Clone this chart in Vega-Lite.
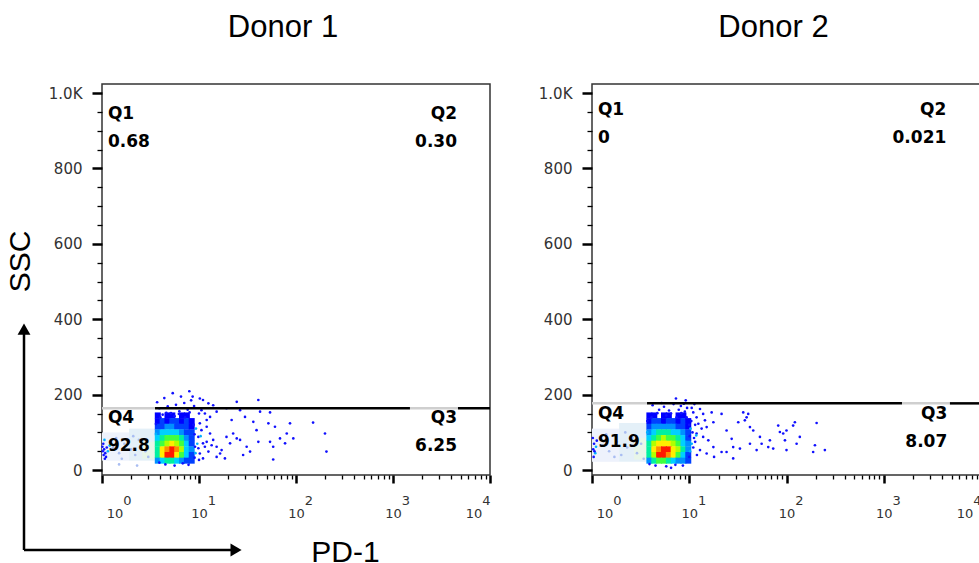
{
  "$schema": "https://vega.github.io/schema/vega-lite/v6.json",
  "background": "white",
  "padding": {"left": 4, "top": 11, "right": 0, "bottom": 0},
  "config": {
    "view": {"stroke": "#333", "strokeWidth": 1.5},
    "concat": {"spacing": 45}
  },
  "datasets": {
    "faint": [
      {"donor": "D1", "x": 1.0, "x2": 1.9, "y": 25, "y2": 100, "t": "f1"},
      {"donor": "D1", "x": 1.9, "x2": 3.52, "y": 25, "y2": 110, "t": "f2"},
      {"donor": "D1", "x": 2.6, "x2": 3.52, "y": 30, "y2": 75, "t": "f3"},
      {"donor": "D2", "x": 1.0, "x2": 1.9, "y": 22, "y2": 110, "t": "f1"},
      {"donor": "D2", "x": 1.9, "x2": 3.72, "y": 22, "y2": 125, "t": "f2"},
      {"donor": "D2", "x": 2.7, "x2": 3.72, "y": 28, "y2": 85, "t": "f3"}
    ],
    "heat": [
      {"donor": "D1", "x": 3.76, "y": 145, "v": 1}, {"donor": "D1", "x": 4.73, "y": 145, "v": 1}, {"donor": "D1", "x": 5.31, "y": 145, "v": 1}, {"donor": "D1", "x": 6.68, "y": 145, "v": 1}, {"donor": "D1", "x": 7.50, "y": 145, "v": 1},
      {"donor": "D1", "x": 3.76, "y": 130, "v": 1}, {"donor": "D1", "x": 4.22, "y": 130, "v": 2}, {"donor": "D1", "x": 4.73, "y": 130, "v": 1}, {"donor": "D1", "x": 5.31, "y": 130, "v": 2}, {"donor": "D1", "x": 5.96, "y": 130, "v": 2}, {"donor": "D1", "x": 6.68, "y": 130, "v": 1}, {"donor": "D1", "x": 7.50, "y": 130, "v": 2}, {"donor": "D1", "x": 8.41, "y": 130, "v": 1},
      {"donor": "D1", "x": 3.76, "y": 115, "v": 2}, {"donor": "D1", "x": 4.22, "y": 115, "v": 2}, {"donor": "D1", "x": 4.73, "y": 115, "v": 3}, {"donor": "D1", "x": 5.31, "y": 115, "v": 3}, {"donor": "D1", "x": 5.96, "y": 115, "v": 2}, {"donor": "D1", "x": 6.68, "y": 115, "v": 2}, {"donor": "D1", "x": 7.50, "y": 115, "v": 2}, {"donor": "D1", "x": 8.41, "y": 115, "v": 1},
      {"donor": "D1", "x": 3.76, "y": 100, "v": 3}, {"donor": "D1", "x": 4.22, "y": 100, "v": 4}, {"donor": "D1", "x": 4.73, "y": 100, "v": 4}, {"donor": "D1", "x": 5.31, "y": 100, "v": 4}, {"donor": "D1", "x": 5.96, "y": 100, "v": 4}, {"donor": "D1", "x": 6.68, "y": 100, "v": 3}, {"donor": "D1", "x": 7.50, "y": 100, "v": 2}, {"donor": "D1", "x": 8.41, "y": 100, "v": 2},
      {"donor": "D1", "x": 3.76, "y": 85, "v": 4}, {"donor": "D1", "x": 4.22, "y": 85, "v": 5}, {"donor": "D1", "x": 4.73, "y": 85, "v": 6}, {"donor": "D1", "x": 5.31, "y": 85, "v": 6}, {"donor": "D1", "x": 5.96, "y": 85, "v": 6}, {"donor": "D1", "x": 6.68, "y": 85, "v": 5}, {"donor": "D1", "x": 7.50, "y": 85, "v": 3}, {"donor": "D1", "x": 8.41, "y": 85, "v": 2},
      {"donor": "D1", "x": 3.76, "y": 70, "v": 5}, {"donor": "D1", "x": 4.22, "y": 70, "v": 6}, {"donor": "D1", "x": 4.73, "y": 70, "v": 7}, {"donor": "D1", "x": 5.31, "y": 70, "v": 8}, {"donor": "D1", "x": 5.96, "y": 70, "v": 7}, {"donor": "D1", "x": 6.68, "y": 70, "v": 6}, {"donor": "D1", "x": 7.50, "y": 70, "v": 4}, {"donor": "D1", "x": 8.41, "y": 70, "v": 2},
      {"donor": "D1", "x": 3.76, "y": 55, "v": 5}, {"donor": "D1", "x": 4.22, "y": 55, "v": 8}, {"donor": "D1", "x": 4.73, "y": 55, "v": 9}, {"donor": "D1", "x": 5.31, "y": 55, "v": 10}, {"donor": "D1", "x": 5.96, "y": 55, "v": 9}, {"donor": "D1", "x": 6.68, "y": 55, "v": 7}, {"donor": "D1", "x": 7.50, "y": 55, "v": 4}, {"donor": "D1", "x": 8.41, "y": 55, "v": 3},
      {"donor": "D1", "x": 3.76, "y": 40, "v": 5}, {"donor": "D1", "x": 4.22, "y": 40, "v": 8}, {"donor": "D1", "x": 4.73, "y": 40, "v": 10}, {"donor": "D1", "x": 5.31, "y": 40, "v": 10}, {"donor": "D1", "x": 5.96, "y": 40, "v": 8}, {"donor": "D1", "x": 6.68, "y": 40, "v": 6}, {"donor": "D1", "x": 7.50, "y": 40, "v": 4}, {"donor": "D1", "x": 8.41, "y": 40, "v": 2},
      {"donor": "D1", "x": 3.76, "y": 25, "v": 3}, {"donor": "D1", "x": 4.22, "y": 25, "v": 4}, {"donor": "D1", "x": 4.73, "y": 25, "v": 5}, {"donor": "D1", "x": 5.31, "y": 25, "v": 5}, {"donor": "D1", "x": 5.96, "y": 25, "v": 4}, {"donor": "D1", "x": 6.68, "y": 25, "v": 3}, {"donor": "D1", "x": 7.50, "y": 25, "v": 2}, {"donor": "D1", "x": 8.41, "y": 25, "v": 2},
      {"donor": "D2", "x": 3.89, "y": 145, "v": 1}, {"donor": "D2", "x": 4.37, "y": 145, "v": 1}, {"donor": "D2", "x": 5.50, "y": 145, "v": 1}, {"donor": "D2", "x": 6.17, "y": 145, "v": 1}, {"donor": "D2", "x": 7.76, "y": 145, "v": 1}, {"donor": "D2", "x": 8.71, "y": 145, "v": 1},
      {"donor": "D2", "x": 3.89, "y": 130, "v": 1}, {"donor": "D2", "x": 4.37, "y": 130, "v": 2}, {"donor": "D2", "x": 4.90, "y": 130, "v": 2}, {"donor": "D2", "x": 5.50, "y": 130, "v": 1}, {"donor": "D2", "x": 6.17, "y": 130, "v": 2}, {"donor": "D2", "x": 6.92, "y": 130, "v": 2}, {"donor": "D2", "x": 7.76, "y": 130, "v": 1}, {"donor": "D2", "x": 8.71, "y": 130, "v": 2}, {"donor": "D2", "x": 9.77, "y": 130, "v": 1},
      {"donor": "D2", "x": 3.89, "y": 115, "v": 2}, {"donor": "D2", "x": 4.37, "y": 115, "v": 3}, {"donor": "D2", "x": 4.90, "y": 115, "v": 3}, {"donor": "D2", "x": 5.50, "y": 115, "v": 3}, {"donor": "D2", "x": 6.17, "y": 115, "v": 3}, {"donor": "D2", "x": 6.92, "y": 115, "v": 3}, {"donor": "D2", "x": 7.76, "y": 115, "v": 2}, {"donor": "D2", "x": 8.71, "y": 115, "v": 2}, {"donor": "D2", "x": 9.77, "y": 115, "v": 1},
      {"donor": "D2", "x": 3.89, "y": 100, "v": 3}, {"donor": "D2", "x": 4.37, "y": 100, "v": 4}, {"donor": "D2", "x": 4.90, "y": 100, "v": 5}, {"donor": "D2", "x": 5.50, "y": 100, "v": 5}, {"donor": "D2", "x": 6.17, "y": 100, "v": 5}, {"donor": "D2", "x": 6.92, "y": 100, "v": 4}, {"donor": "D2", "x": 7.76, "y": 100, "v": 4}, {"donor": "D2", "x": 8.71, "y": 100, "v": 3}, {"donor": "D2", "x": 9.77, "y": 100, "v": 2},
      {"donor": "D2", "x": 3.89, "y": 85, "v": 4}, {"donor": "D2", "x": 4.37, "y": 85, "v": 5}, {"donor": "D2", "x": 4.90, "y": 85, "v": 6}, {"donor": "D2", "x": 5.50, "y": 85, "v": 7}, {"donor": "D2", "x": 6.17, "y": 85, "v": 6}, {"donor": "D2", "x": 6.92, "y": 85, "v": 6}, {"donor": "D2", "x": 7.76, "y": 85, "v": 5}, {"donor": "D2", "x": 8.71, "y": 85, "v": 4}, {"donor": "D2", "x": 9.77, "y": 85, "v": 2},
      {"donor": "D2", "x": 3.89, "y": 70, "v": 5}, {"donor": "D2", "x": 4.37, "y": 70, "v": 7}, {"donor": "D2", "x": 4.90, "y": 70, "v": 8}, {"donor": "D2", "x": 5.50, "y": 70, "v": 8}, {"donor": "D2", "x": 6.17, "y": 70, "v": 8}, {"donor": "D2", "x": 6.92, "y": 70, "v": 7}, {"donor": "D2", "x": 7.76, "y": 70, "v": 6}, {"donor": "D2", "x": 8.71, "y": 70, "v": 4}, {"donor": "D2", "x": 9.77, "y": 70, "v": 3},
      {"donor": "D2", "x": 3.89, "y": 55, "v": 5}, {"donor": "D2", "x": 4.37, "y": 55, "v": 8}, {"donor": "D2", "x": 4.90, "y": 55, "v": 9}, {"donor": "D2", "x": 5.50, "y": 55, "v": 10}, {"donor": "D2", "x": 6.17, "y": 55, "v": 10}, {"donor": "D2", "x": 6.92, "y": 55, "v": 8}, {"donor": "D2", "x": 7.76, "y": 55, "v": 7}, {"donor": "D2", "x": 8.71, "y": 55, "v": 5}, {"donor": "D2", "x": 9.77, "y": 55, "v": 3},
      {"donor": "D2", "x": 3.89, "y": 40, "v": 5}, {"donor": "D2", "x": 4.37, "y": 40, "v": 7}, {"donor": "D2", "x": 4.90, "y": 40, "v": 10}, {"donor": "D2", "x": 5.50, "y": 40, "v": 10}, {"donor": "D2", "x": 6.17, "y": 40, "v": 9}, {"donor": "D2", "x": 6.92, "y": 40, "v": 8}, {"donor": "D2", "x": 7.76, "y": 40, "v": 6}, {"donor": "D2", "x": 8.71, "y": 40, "v": 4}, {"donor": "D2", "x": 9.77, "y": 40, "v": 2},
      {"donor": "D2", "x": 3.89, "y": 25, "v": 3}, {"donor": "D2", "x": 4.37, "y": 25, "v": 5}, {"donor": "D2", "x": 4.90, "y": 25, "v": 6}, {"donor": "D2", "x": 5.50, "y": 25, "v": 6}, {"donor": "D2", "x": 6.17, "y": 25, "v": 5}, {"donor": "D2", "x": 6.92, "y": 25, "v": 4}, {"donor": "D2", "x": 7.76, "y": 25, "v": 3}, {"donor": "D2", "x": 8.71, "y": 25, "v": 3}, {"donor": "D2", "x": 9.77, "y": 25, "v": 2}
    ],
    "dots": [
      {"donor": "D1", "x": 10.2, "y": 190, "t": "blue"}, {"donor": "D1", "x": 11.0, "y": 186, "t": "blue"}, {"donor": "D1", "x": 12.5, "y": 177, "t": "blue"}, {"donor": "D1", "x": 14.0, "y": 172, "t": "blue"}, {"donor": "D1", "x": 10.6, "y": 159, "t": "blue"}, {"donor": "D1", "x": 11.5, "y": 150, "t": "blue"}, {"donor": "D1", "x": 13.0, "y": 141, "t": "blue"}, {"donor": "D1", "x": 15.2, "y": 155, "t": "blue"}, {"donor": "D1", "x": 19.2, "y": 164, "t": "blue"}, {"donor": "D1", "x": 24.5, "y": 181, "t": "blue"}, {"donor": "D1", "x": 26.5, "y": 159, "t": "blue"}, {"donor": "D1", "x": 40.9, "y": 186, "t": "blue"}, {"donor": "D1", "x": 42.6, "y": 155, "t": "blue"}, {"donor": "D1", "x": 54.0, "y": 153, "t": "blue"}, {"donor": "D1", "x": 21.7, "y": 133, "t": "blue"}, {"donor": "D1", "x": 29.8, "y": 141, "t": "blue"}, {"donor": "D1", "x": 36.3, "y": 128, "t": "blue"}, {"donor": "D1", "x": 51.9, "y": 124, "t": "blue"}, {"donor": "D1", "x": 60.7, "y": 115, "t": "blue"}, {"donor": "D1", "x": 80.3, "y": 97, "t": "blue"}, {"donor": "D1", "x": 86.7, "y": 124, "t": "blue"}, {"donor": "D1", "x": 150, "y": 126, "t": "blue"}, {"donor": "D1", "x": 199, "y": 97, "t": "blue"}, {"donor": "D1", "x": 93.8, "y": 84, "t": "blue"}, {"donor": "D1", "x": 77.1, "y": 71, "t": "blue"}, {"donor": "D1", "x": 54.0, "y": 75, "t": "blue"}, {"donor": "D1", "x": 58.2, "y": 62, "t": "blue"}, {"donor": "D1", "x": 40.9, "y": 75, "t": "blue"}, {"donor": "D1", "x": 31.0, "y": 62, "t": "blue"}, {"donor": "D1", "x": 26.5, "y": 80, "t": "blue"}, {"donor": "D1", "x": 24.5, "y": 84, "t": "blue"}, {"donor": "D1", "x": 20.9, "y": 71, "t": "blue"}, {"donor": "D1", "x": 17.1, "y": 53, "t": "blue"}, {"donor": "D1", "x": 18.5, "y": 31, "t": "blue"}, {"donor": "D1", "x": 28.5, "y": 40, "t": "blue"}, {"donor": "D1", "x": 33.6, "y": 49, "t": "blue"}, {"donor": "D1", "x": 58.2, "y": 28, "t": "blue"}, {"donor": "D1", "x": 206, "y": 49, "t": "blue"}, {"donor": "D1", "x": 12.0, "y": 115, "t": "blue"}, {"donor": "D1", "x": 13.0, "y": 97, "t": "blue"}, {"donor": "D1", "x": 14.0, "y": 80, "t": "blue"}, {"donor": "D1", "x": 15.2, "y": 62, "t": "blue"}, {"donor": "D1", "x": 11.5, "y": 62, "t": "blue"}, {"donor": "D1", "x": 10.2, "y": 44, "t": "blue"}, {"donor": "D1", "x": 11.0, "y": 31, "t": "blue"}, {"donor": "D1", "x": 12.5, "y": 49, "t": "blue"}, {"donor": "D1", "x": 15.2, "y": 35, "t": "blue"}, {"donor": "D1", "x": 16.5, "y": 44, "t": "blue"}, {"donor": "D1", "x": 9.85, "y": 88, "t": "blue"}, {"donor": "D1", "x": 10.2, "y": 124, "t": "blue"}, {"donor": "D1", "x": 12.0, "y": 75, "t": "blue"}, {"donor": "D1", "x": 13.5, "y": 66, "t": "blue"}, {"donor": "D1", "x": 19.2, "y": 88, "t": "blue"}, {"donor": "D1", "x": 22.5, "y": 97, "t": "blue"}, {"donor": "D1", "x": 39.2, "y": 106, "t": "blue"}, {"donor": "D1", "x": 68.4, "y": 84, "t": "blue"},
      {"donor": "D1", "x": 10.0, "y": 150, "t": "blue"}, {"donor": "D1", "x": 10.6, "y": 106, "t": "blue"}, {"donor": "D1", "x": 11.0, "y": 71, "t": "blue"}, {"donor": "D1", "x": 10.0, "y": 27, "t": "blue"}, {"donor": "D1", "x": 12.0, "y": 133, "t": "blue"}, {"donor": "D1", "x": 9.85, "y": 58, "t": "blue"},
      {"donor": "D1", "x": 9.3, "y": 110, "t": "cyan"}, {"donor": "D1", "x": 9.6, "y": 70, "t": "cyan"}, {"donor": "D1", "x": 10.4, "y": 90, "t": "cyan"}, {"donor": "D1", "x": 9.2, "y": 45, "t": "cyan"},
      {"donor": "D1", "x": 5.36, "y": 204, "t": "blue"}, {"donor": "D1", "x": 6.52, "y": 195, "t": "blue"}, {"donor": "D1", "x": 7.95, "y": 209, "t": "blue"}, {"donor": "D1", "x": 4.39, "y": 191, "t": "blue"}, {"donor": "D1", "x": 7.05, "y": 178, "t": "blue"}, {"donor": "D1", "x": 5.79, "y": 173, "t": "blue"}, {"donor": "D1", "x": 4.76, "y": 169, "t": "blue"}, {"donor": "D1", "x": 3.90, "y": 164, "t": "blue"}, {"donor": "D1", "x": 7.64, "y": 160, "t": "blue"}, {"donor": "D1", "x": 6.27, "y": 156, "t": "blue"}, {"donor": "D1", "x": 5.14, "y": 151, "t": "blue"}, {"donor": "D1", "x": 4.22, "y": 147, "t": "blue"}, {"donor": "D1", "x": 8.3, "y": 185, "t": "blue"}, {"donor": "D1", "x": 8.9, "y": 170, "t": "blue"}, {"donor": "D1", "x": 8.6, "y": 195, "t": "blue"}, {"donor": "D1", "x": 3.7, "y": 180, "t": "blue"},
      {"donor": "D1", "x": 4.0, "y": 140, "t": "blue"}, {"donor": "D1", "x": 4.6, "y": 152, "t": "blue"}, {"donor": "D1", "x": 5.6, "y": 143, "t": "blue"}, {"donor": "D1", "x": 6.2, "y": 149, "t": "blue"}, {"donor": "D1", "x": 7.2, "y": 140, "t": "blue"}, {"donor": "D1", "x": 8.0, "y": 153, "t": "blue"}, {"donor": "D1", "x": 8.8, "y": 120, "t": "blue"}, {"donor": "D1", "x": 9.0, "y": 95, "t": "blue"}, {"donor": "D1", "x": 9.1, "y": 62, "t": "blue"}, {"donor": "D1", "x": 9.0, "y": 33, "t": "blue"}, {"donor": "D1", "x": 3.6, "y": 122, "t": "blue"}, {"donor": "D1", "x": 3.6, "y": 96, "t": "cyan"},
      {"donor": "D1", "x": 1.03, "y": 70, "t": "blue"}, {"donor": "D1", "x": 1.05, "y": 55, "t": "blue"}, {"donor": "D1", "x": 1.08, "y": 45, "t": "blue"}, {"donor": "D1", "x": 1.12, "y": 60, "t": "blue"}, {"donor": "D1", "x": 1.04, "y": 40, "t": "blue"}, {"donor": "D1", "x": 1.15, "y": 50, "t": "cyan"}, {"donor": "D1", "x": 1.1, "y": 35, "t": "blue"}, {"donor": "D1", "x": 1.06, "y": 80, "t": "cyan"}, {"donor": "D1", "x": 1.2, "y": 65, "t": "cyan"}, {"donor": "D1", "x": 1.02, "y": 50, "t": "blue"}, {"donor": "D1", "x": 1.01, "y": 62, "t": "blue"}, {"donor": "D1", "x": 1.07, "y": 30, "t": "blue"},
      {"donor": "D1", "x": 1.3, "y": 60, "t": "pale"}, {"donor": "D1", "x": 1.5, "y": 45, "t": "pale"}, {"donor": "D1", "x": 1.7, "y": 70, "t": "pale"}, {"donor": "D1", "x": 2.0, "y": 55, "t": "pale"}, {"donor": "D1", "x": 2.2, "y": 40, "t": "pale"}, {"donor": "D1", "x": 2.5, "y": 65, "t": "pale"}, {"donor": "D1", "x": 2.8, "y": 50, "t": "pale"}, {"donor": "D1", "x": 1.4, "y": 85, "t": "pale"}, {"donor": "D1", "x": 2.1, "y": 90, "t": "pale"}, {"donor": "D1", "x": 3.0, "y": 35, "t": "pale"}, {"donor": "D1", "x": 1.6, "y": 30, "t": "pale"}, {"donor": "D1", "x": 2.4, "y": 80, "t": "pale"}, {"donor": "D1", "x": 1.5, "y": 15, "t": "pale"}, {"donor": "D1", "x": 2.3, "y": 12, "t": "pale"},
      {"donor": "D1", "x": 4.5, "y": 15, "t": "blue"}, {"donor": "D1", "x": 5.6, "y": 12, "t": "blue"}, {"donor": "D1", "x": 6.8, "y": 18, "t": "blue"}, {"donor": "D1", "x": 3.9, "y": 20, "t": "blue"}, {"donor": "D1", "x": 7.8, "y": 14, "t": "blue"},
      {"donor": "D2", "x": 11.0, "y": 153, "t": "blue"}, {"donor": "D2", "x": 11.9, "y": 140, "t": "blue"}, {"donor": "D2", "x": 12.9, "y": 162, "t": "blue"}, {"donor": "D2", "x": 13.9, "y": 149, "t": "blue"}, {"donor": "D2", "x": 14.5, "y": 132, "t": "blue"}, {"donor": "D2", "x": 12.4, "y": 123, "t": "blue"}, {"donor": "D2", "x": 13.4, "y": 110, "t": "blue"}, {"donor": "D2", "x": 15.1, "y": 114, "t": "blue"}, {"donor": "D2", "x": 17.0, "y": 153, "t": "blue"}, {"donor": "D2", "x": 17.7, "y": 127, "t": "blue"}, {"donor": "D2", "x": 21.5, "y": 149, "t": "blue"}, {"donor": "D2", "x": 24.2, "y": 105, "t": "blue"}, {"donor": "D2", "x": 27.3, "y": 83, "t": "blue"}, {"donor": "D2", "x": 28.3, "y": 61, "t": "blue"}, {"donor": "D2", "x": 31.9, "y": 127, "t": "blue"}, {"donor": "D2", "x": 35.9, "y": 153, "t": "blue"}, {"donor": "D2", "x": 38.9, "y": 140, "t": "blue"}, {"donor": "D2", "x": 40.4, "y": 149, "t": "blue"}, {"donor": "D2", "x": 37.3, "y": 132, "t": "blue"}, {"donor": "D2", "x": 42.1, "y": 114, "t": "blue"}, {"donor": "D2", "x": 45.5, "y": 105, "t": "blue"}, {"donor": "D2", "x": 53.3, "y": 88, "t": "blue"}, {"donor": "D2", "x": 55.5, "y": 70, "t": "blue"}, {"donor": "D2", "x": 64.9, "y": 61, "t": "blue"}, {"donor": "D2", "x": 82.2, "y": 118, "t": "blue"}, {"donor": "D2", "x": 85.5, "y": 101, "t": "blue"}, {"donor": "D2", "x": 92.5, "y": 97, "t": "blue"}, {"donor": "D2", "x": 100, "y": 105, "t": "blue"}, {"donor": "D2", "x": 96.4, "y": 79, "t": "blue"}, {"donor": "D2", "x": 122, "y": 127, "t": "blue"}, {"donor": "D2", "x": 117, "y": 118, "t": "blue"}, {"donor": "D2", "x": 137, "y": 88, "t": "blue"}, {"donor": "D2", "x": 127, "y": 70, "t": "blue"}, {"donor": "D2", "x": 196, "y": 66, "t": "blue"}, {"donor": "D2", "x": 188, "y": 48, "t": "blue"}, {"donor": "D2", "x": 204, "y": 125, "t": "blue"}, {"donor": "D2", "x": 248, "y": 53, "t": "blue"}, {"donor": "D2", "x": 24.2, "y": 48, "t": "blue"}, {"donor": "D2", "x": 28.3, "y": 31, "t": "blue"}, {"donor": "D2", "x": 17.7, "y": 61, "t": "blue"}, {"donor": "D2", "x": 15.7, "y": 79, "t": "blue"}, {"donor": "D2", "x": 13.9, "y": 88, "t": "blue"}, {"donor": "D2", "x": 11.9, "y": 97, "t": "blue"}, {"donor": "D2", "x": 11.5, "y": 75, "t": "blue"}, {"donor": "D2", "x": 12.9, "y": 53, "t": "blue"}, {"donor": "D2", "x": 15.1, "y": 44, "t": "blue"}, {"donor": "D2", "x": 18.0, "y": 35, "t": "blue"}, {"donor": "D2", "x": 21.5, "y": 48, "t": "blue"}, {"donor": "D2", "x": 33.2, "y": 57, "t": "blue"}, {"donor": "D2", "x": 42.1, "y": 70, "t": "blue"}, {"donor": "D2", "x": 49.3, "y": 53, "t": "blue"}, {"donor": "D2", "x": 67.5, "y": 79, "t": "blue"}, {"donor": "D2", "x": 73.0, "y": 57, "t": "blue"}, {"donor": "D2", "x": 100, "y": 53, "t": "blue"},
      {"donor": "D2", "x": 11.0, "y": 60, "t": "blue"}, {"donor": "D2", "x": 10.8, "y": 100, "t": "blue"}, {"donor": "D2", "x": 11.5, "y": 120, "t": "blue"}, {"donor": "D2", "x": 12.0, "y": 40, "t": "blue"}, {"donor": "D2", "x": 10.5, "y": 130, "t": "blue"}, {"donor": "D2", "x": 11.2, "y": 85, "t": "blue"}, {"donor": "D2", "x": 10.6, "y": 165, "t": "blue"}, {"donor": "D2", "x": 11.3, "y": 175, "t": "blue"},
      {"donor": "D2", "x": 10.3, "y": 110, "t": "cyan"}, {"donor": "D2", "x": 10.6, "y": 70, "t": "cyan"}, {"donor": "D2", "x": 11.8, "y": 92, "t": "cyan"}, {"donor": "D2", "x": 10.2, "y": 50, "t": "cyan"},
      {"donor": "D2", "x": 4.2, "y": 172, "t": "blue"}, {"donor": "D2", "x": 5.5, "y": 168, "t": "blue"}, {"donor": "D2", "x": 6.9, "y": 175, "t": "blue"}, {"donor": "D2", "x": 8.2, "y": 170, "t": "blue"}, {"donor": "D2", "x": 9.5, "y": 165, "t": "blue"}, {"donor": "D2", "x": 4.9, "y": 160, "t": "blue"}, {"donor": "D2", "x": 6.2, "y": 158, "t": "blue"}, {"donor": "D2", "x": 7.8, "y": 160, "t": "blue"}, {"donor": "D2", "x": 9.0, "y": 155, "t": "blue"}, {"donor": "D2", "x": 5.2, "y": 178, "t": "blue"}, {"donor": "D2", "x": 8.8, "y": 176, "t": "blue"}, {"donor": "D2", "x": 9.2, "y": 185, "t": "blue"}, {"donor": "D2", "x": 7.3, "y": 190, "t": "blue"},
      {"donor": "D2", "x": 4.1, "y": 140, "t": "blue"}, {"donor": "D2", "x": 4.7, "y": 151, "t": "blue"}, {"donor": "D2", "x": 5.8, "y": 145, "t": "blue"}, {"donor": "D2", "x": 6.5, "y": 150, "t": "blue"}, {"donor": "D2", "x": 7.4, "y": 140, "t": "blue"}, {"donor": "D2", "x": 8.3, "y": 151, "t": "blue"}, {"donor": "D2", "x": 9.4, "y": 140, "t": "blue"}, {"donor": "D2", "x": 10.0, "y": 120, "t": "blue"}, {"donor": "D2", "x": 10.1, "y": 90, "t": "blue"}, {"donor": "D2", "x": 10.0, "y": 35, "t": "blue"}, {"donor": "D2", "x": 3.7, "y": 130, "t": "blue"}, {"donor": "D2", "x": 3.7, "y": 100, "t": "cyan"},
      {"donor": "D2", "x": 1.02, "y": 85, "t": "blue"}, {"donor": "D2", "x": 1.05, "y": 70, "t": "blue"}, {"donor": "D2", "x": 1.03, "y": 55, "t": "blue"}, {"donor": "D2", "x": 1.08, "y": 45, "t": "cyan"}, {"donor": "D2", "x": 1.1, "y": 62, "t": "cyan"}, {"donor": "D2", "x": 1.04, "y": 35, "t": "blue"}, {"donor": "D2", "x": 1.12, "y": 78, "t": "blue"}, {"donor": "D2", "x": 1.06, "y": 50, "t": "blue"},
      {"donor": "D2", "x": 1.3, "y": 65, "t": "pale"}, {"donor": "D2", "x": 1.5, "y": 50, "t": "pale"}, {"donor": "D2", "x": 1.8, "y": 75, "t": "pale"}, {"donor": "D2", "x": 2.0, "y": 40, "t": "pale"}, {"donor": "D2", "x": 2.3, "y": 60, "t": "pale"}, {"donor": "D2", "x": 2.6, "y": 85, "t": "pale"}, {"donor": "D2", "x": 2.9, "y": 45, "t": "pale"}, {"donor": "D2", "x": 3.2, "y": 70, "t": "pale"}, {"donor": "D2", "x": 1.4, "y": 95, "t": "pale"}, {"donor": "D2", "x": 2.2, "y": 100, "t": "pale"}, {"donor": "D2", "x": 3.4, "y": 30, "t": "pale"}, {"donor": "D2", "x": 1.7, "y": 35, "t": "pale"},
      {"donor": "D2", "x": 4.5, "y": 12, "t": "blue"}, {"donor": "D2", "x": 5.8, "y": 10, "t": "blue"}, {"donor": "D2", "x": 7.2, "y": 14, "t": "blue"}, {"donor": "D2", "x": 8.6, "y": 12, "t": "blue"}, {"donor": "D2", "x": 3.9, "y": 16, "t": "blue"}, {"donor": "D2", "x": 6.5, "y": 6, "t": "blue"}
    ],
    "gates": [
      {"donor": "D1", "x": 8.7},
      {"donor": "D2", "x": 10.2}
    ],
    "hseg": [
      {"donor": "D1", "x": 1, "x2": 3.52, "y": 164, "part": "under label"},
      {"donor": "D1", "x": 3.52, "x2": 1496, "y": 164, "part": "gate"},
      {"donor": "D1", "x": 1496, "x2": 4677, "y": 164, "part": "under label"},
      {"donor": "D1", "x": 4677, "x2": 10000, "y": 164, "part": "gate"},
      {"donor": "D2", "x": 1, "x2": 3.68, "y": 177, "part": "under label"},
      {"donor": "D2", "x": 3.68, "x2": 1540, "y": 177, "part": "gate"},
      {"donor": "D2", "x": 1540, "x2": 4790, "y": 177, "part": "under label"},
      {"donor": "D2", "x": 4790, "x2": 10000, "y": 177, "part": "gate"}
    ],
    "quads": [
      {"donor": "D1", "q": "Q1", "pct": "0.68", "x": 1.15, "y": 906},
      {"donor": "D1", "q": "Q2", "pct": "0.30", "x": 4570, "y": 906},
      {"donor": "D1", "q": "Q3", "pct": "6.25", "x": 4570, "y": 102},
      {"donor": "D1", "q": "Q4", "pct": "92.8", "x": 1.15, "y": 102},
      {"donor": "D2", "q": "Q1", "pct": "0", "x": 1.15, "y": 918},
      {"donor": "D2", "q": "Q2", "pct": "0.021", "x": 4400, "y": 918},
      {"donor": "D2", "q": "Q3", "pct": "8.07", "x": 4500, "y": 111},
      {"donor": "D2", "q": "Q4", "pct": "91.9", "x": 1.15, "y": 111}
    ],
    "arrows": [
      {"x": 0.157, "y": -212, "x2": 0.157, "y2": 368},
      {"x": 0.157, "y": -212, "x2": 22.4, "y2": -212}
    ],
    "heads": [
      {"dir": "up", "x": 0.157, "y": 374},
      {"dir": "right", "x": 24.1, "y": -212}
    ]
  },
  "hconcat": [
    {
      "width": 388,
      "height": 391,
      "title": {"text": "Donor 1", "font": "Liberation Sans", "fontSize": 31, "fontWeight": "normal", "color": "#000", "anchor": "middle", "frame": "group", "dx": -13, "offset": 16, "baseline": "alphabetic"},
      "encoding": {
        "x": {"field": "x", "type": "quantitative",
          "scale": {"type": "log", "domain": [1, 10000], "nice": false},
          "axis": {
            "values": [1,2,3,4,5,6,7,8,9,10,20,30,40,50,60,70,80,90,100,200,300,400,500,600,700,800,900,1000,2000,3000,4000,5000,6000,7000,8000,9000,10000],
            "labelExpr": "datum.value == 1 ? ['\u200b\u00a0\u00a0\u00a0\u00a0\u00a00', '\u200b\u00a010\u00a0\u00a0\u200b'] : datum.value == 10000 ? ['\u200b\u00a0\u00a0\u00a0\u00a04', '10\u00a0\u00a0\u200b'] : indexof([10,100,1000], datum.value) >= 0 ? ['\u200b\u00a0\u00a0\u00a0\u00a0\u00a0\u00a0' + round(log(datum.value)/LN10), '10'] : ''",
            "labelFlush": true, "labelOverlap": false, "labelFont": "DejaVu Sans", "labelFontSize": 13, "labelColor": "#333", "labelLineHeight": 13, "labelPadding": 11,
            "tickColor": "#000",
            "tickSize": {"condition": {"test": "indexof([1,10,100,1000,10000], datum.value) >= 0", "value": 8}, "value": 4},
            "tickWidth": {"condition": {"test": "indexof([1,10,100,1000,10000], datum.value) >= 0", "value": 2.5}, "value": 1.3},
            "domain": false, "grid": false,
            "title": "PD-1", "titleFont": "Liberation Sans", "titleFontSize": 30, "titleFontWeight": "normal", "titleColor": "#000", "titleX": 243, "titleY": 86, "titleBaseline": "alphabetic", "titleAlign": "center"
          }
        },
        "y": {"field": "y", "type": "quantitative",
          "scale": {"domain": [-13, 1024], "nice": false, "zero": false},
          "axis": {
            "values": [0,50,100,150,200,250,300,350,400,450,500,550,600,650,700,750,800,850,900,950,1000],
            "labelExpr": "datum.value % 200 == 0 ? (datum.value == 1000 ? '1.0K' : datum.label) : ''",
            "labelOverlap": false, "labelFont": "DejaVu Sans", "labelFontSize": 15, "labelColor": "#333", "labelPadding": 10,
            "tickColor": "#000",
            "tickSize": {"condition": {"test": "datum.value % 200 == 0", "value": 10}, "value": 5},
            "tickWidth": {"condition": {"test": "datum.value % 200 == 0", "value": 2.5}, "value": 1.3},
            "domain": false, "grid": false,
            "title": "SSC", "titleFont": "Liberation Sans", "titleFontSize": 30, "titleFontWeight": "normal", "titleColor": "#000", "titleX": -73, "titleY": 177, "titleBaseline": "alphabetic", "titleAlign": "center", "titleAngle": 270
          }
        }
      },
      "layer": [
        {"data": {"name": "faint"}, "transform": [{"filter": "datum.donor == 'D1'"}], "mark": {"type": "rect"},
         "encoding": {"x2": {"field": "x2"}, "y2": {"field": "y2"}, "color": {"field": "t", "type": "nominal", "scale": {"domain": ["f1", "f2", "f3"], "range": ["#eef2fc", "#e4f0f8", "#e8f6e8"]}, "legend": null}}},
        {"data": {"name": "heat"}, "transform": [{"filter": "datum.donor == 'D1'"}], "mark": {"type": "point", "shape": "square", "filled": true, "size": 36, "opacity": 1, "strokeWidth": 0},
         "encoding": {"color": {"field": "v", "type": "quantitative", "scale": {"domain": [1,2,3,4,5,6,7,8,9,10], "range": ["#0000ff", "#0040ff", "#0090ff", "#00d0ff", "#00f0a0", "#40ff40", "#b0ff00", "#ffee00", "#ff8c00", "#ff1a00"]}, "legend": null}}},
        {"data": {"name": "dots"}, "transform": [{"filter": "datum.donor == 'D1'"}], "mark": {"type": "circle", "size": 7, "opacity": 1},
         "encoding": {"color": {"field": "t", "type": "nominal", "scale": {"domain": ["blue", "cyan", "pale"], "range": ["#1010ff", "#00b0ff", "#a9bdf2"]}, "legend": null}}},
        {"data": {"name": "gates"}, "transform": [{"filter": "datum.donor == 'D1'"}], "mark": {"type": "rule", "strokeWidth": 2.5, "color": "#000"},
         "encoding": {"y": {"datum": -13}, "y2": {"datum": 1024}}},
        {"data": {"name": "hseg"}, "transform": [{"filter": "datum.donor == 'D1'"}], "mark": {"type": "rule", "strokeWidth": 2.5},
         "encoding": {"x2": {"field": "x2"}, "color": {"field": "part", "type": "nominal", "scale": {"domain": ["gate", "under label"], "range": ["#000000", "#cfcfcf"]}, "legend": null}}},
        {"data": {"name": "quads"}, "transform": [{"filter": "datum.donor == 'D1' && (datum.q == 'Q1' || datum.q == 'Q4')"}], "mark": {"type": "text", "align": "left", "baseline": "middle", "dy": -14, "font": "DejaVu Sans", "fontWeight": "bold", "fontSize": 17, "color": "#000"},
         "encoding": {"text": {"field": "q"}}},
        {"data": {"name": "quads"}, "transform": [{"filter": "datum.donor == 'D1' && (datum.q == 'Q1' || datum.q == 'Q4')"}], "mark": {"type": "text", "align": "left", "baseline": "middle", "dy": 14, "font": "DejaVu Sans", "fontWeight": "bold", "fontSize": 17, "color": "#000"},
         "encoding": {"text": {"field": "pct"}}},
        {"data": {"name": "quads"}, "transform": [{"filter": "datum.donor == 'D1' && (datum.q == 'Q2' || datum.q == 'Q3')"}], "mark": {"type": "text", "align": "right", "baseline": "middle", "dy": -14, "font": "DejaVu Sans", "fontWeight": "bold", "fontSize": 17, "color": "#000"},
         "encoding": {"text": {"field": "q"}}},
        {"data": {"name": "quads"}, "transform": [{"filter": "datum.donor == 'D1' && (datum.q == 'Q2' || datum.q == 'Q3')"}], "mark": {"type": "text", "align": "right", "baseline": "middle", "dy": 14, "font": "DejaVu Sans", "fontWeight": "bold", "fontSize": 17, "color": "#000"},
         "encoding": {"text": {"field": "pct"}}},
        {"data": {"name": "arrows"}, "mark": {"type": "rule", "strokeWidth": 2.5, "color": "#000"},
         "encoding": {"x2": {"field": "x2"}, "y2": {"field": "y2"}}},
        {"data": {"name": "heads"}, "mark": {"type": "point", "filled": true, "size": 165, "opacity": 1, "color": "#000", "strokeWidth": 0},
         "encoding": {"shape": {"field": "dir", "type": "nominal", "scale": {"domain": ["up", "right"], "range": ["triangle-up", "triangle-right"]}, "legend": null}}}
      ],
      "resolve": {"scale": {"color": "independent", "shape": "independent"}}
    },
    {
      "width": 389,
      "height": 391,
      "title": {"text": "Donor 2", "font": "Liberation Sans", "fontSize": 31, "fontWeight": "normal", "color": "#000", "anchor": "middle", "frame": "group", "dx": -13, "offset": 16, "baseline": "alphabetic"},
      "encoding": {
        "x": {"field": "x", "type": "quantitative",
          "scale": {"type": "log", "domain": [1, 10000], "nice": false},
          "axis": {
            "values": [1,2,3,4,5,6,7,8,9,10,20,30,40,50,60,70,80,90,100,200,300,400,500,600,700,800,900,1000,2000,3000,4000,5000,6000,7000,8000,9000,10000],
            "labelExpr": "datum.value == 1 ? ['\u200b\u00a0\u00a0\u00a0\u00a0\u00a00', '\u200b\u00a010\u00a0\u00a0\u200b'] : datum.value == 10000 ? ['\u200b\u00a0\u00a0\u00a0\u00a04', '10\u00a0\u00a0\u200b'] : indexof([10,100,1000], datum.value) >= 0 ? ['\u200b\u00a0\u00a0\u00a0\u00a0\u00a0\u00a0' + round(log(datum.value)/LN10), '10'] : ''",
            "labelFlush": true, "labelOverlap": false, "labelFont": "DejaVu Sans", "labelFontSize": 13, "labelColor": "#333", "labelLineHeight": 13, "labelPadding": 11,
            "tickColor": "#000",
            "tickSize": {"condition": {"test": "indexof([1,10,100,1000,10000], datum.value) >= 0", "value": 8}, "value": 4},
            "tickWidth": {"condition": {"test": "indexof([1,10,100,1000,10000], datum.value) >= 0", "value": 2.5}, "value": 1.3},
            "domain": false, "grid": false, "title": null
          }
        },
        "y": {"field": "y", "type": "quantitative",
          "scale": {"domain": [-13, 1024], "nice": false, "zero": false},
          "axis": {
            "values": [0,50,100,150,200,250,300,350,400,450,500,550,600,650,700,750,800,850,900,950,1000],
            "labelExpr": "datum.value % 200 == 0 ? (datum.value == 1000 ? '1.0K' : datum.label) : ''",
            "labelOverlap": false, "labelFont": "DejaVu Sans", "labelFontSize": 15, "labelColor": "#333", "labelPadding": 10,
            "tickColor": "#000",
            "tickSize": {"condition": {"test": "datum.value % 200 == 0", "value": 10}, "value": 5},
            "tickWidth": {"condition": {"test": "datum.value % 200 == 0", "value": 2.5}, "value": 1.3},
            "domain": false, "grid": false, "title": null
          }
        }
      },
      "layer": [
        {"data": {"name": "faint"}, "transform": [{"filter": "datum.donor == 'D2'"}], "mark": {"type": "rect"},
         "encoding": {"x2": {"field": "x2"}, "y2": {"field": "y2"}, "color": {"field": "t", "type": "nominal", "scale": {"domain": ["f1", "f2", "f3"], "range": ["#eef2fc", "#e4f0f8", "#e8f6e8"]}, "legend": null}}},
        {"data": {"name": "heat"}, "transform": [{"filter": "datum.donor == 'D2'"}], "mark": {"type": "point", "shape": "square", "filled": true, "size": 36, "opacity": 1, "strokeWidth": 0},
         "encoding": {"color": {"field": "v", "type": "quantitative", "scale": {"domain": [1,2,3,4,5,6,7,8,9,10], "range": ["#0000ff", "#0040ff", "#0090ff", "#00d0ff", "#00f0a0", "#40ff40", "#b0ff00", "#ffee00", "#ff8c00", "#ff1a00"]}, "legend": null}}},
        {"data": {"name": "dots"}, "transform": [{"filter": "datum.donor == 'D2'"}], "mark": {"type": "circle", "size": 7, "opacity": 1},
         "encoding": {"color": {"field": "t", "type": "nominal", "scale": {"domain": ["blue", "cyan", "pale"], "range": ["#1010ff", "#00b0ff", "#a9bdf2"]}, "legend": null}}},
        {"data": {"name": "gates"}, "transform": [{"filter": "datum.donor == 'D2'"}], "mark": {"type": "rule", "strokeWidth": 2.5, "color": "#000"},
         "encoding": {"y": {"datum": -13}, "y2": {"datum": 1024}}},
        {"data": {"name": "hseg"}, "transform": [{"filter": "datum.donor == 'D2'"}], "mark": {"type": "rule", "strokeWidth": 2.5},
         "encoding": {"x2": {"field": "x2"}, "color": {"field": "part", "type": "nominal", "scale": {"domain": ["gate", "under label"], "range": ["#000000", "#cfcfcf"]}, "legend": null}}},
        {"data": {"name": "quads"}, "transform": [{"filter": "datum.donor == 'D2' && (datum.q == 'Q1' || datum.q == 'Q4')"}], "mark": {"type": "text", "align": "left", "baseline": "middle", "dy": -14, "font": "DejaVu Sans", "fontWeight": "bold", "fontSize": 17, "color": "#000"},
         "encoding": {"text": {"field": "q"}}},
        {"data": {"name": "quads"}, "transform": [{"filter": "datum.donor == 'D2' && (datum.q == 'Q1' || datum.q == 'Q4')"}], "mark": {"type": "text", "align": "left", "baseline": "middle", "dy": 14, "font": "DejaVu Sans", "fontWeight": "bold", "fontSize": 17, "color": "#000"},
         "encoding": {"text": {"field": "pct"}}},
        {"data": {"name": "quads"}, "transform": [{"filter": "datum.donor == 'D2' && (datum.q == 'Q2' || datum.q == 'Q3')"}], "mark": {"type": "text", "align": "right", "baseline": "middle", "dy": -14, "font": "DejaVu Sans", "fontWeight": "bold", "fontSize": 17, "color": "#000"},
         "encoding": {"text": {"field": "q"}}},
        {"data": {"name": "quads"}, "transform": [{"filter": "datum.donor == 'D2' && (datum.q == 'Q2' || datum.q == 'Q3')"}], "mark": {"type": "text", "align": "right", "baseline": "middle", "dy": 14, "font": "DejaVu Sans", "fontWeight": "bold", "fontSize": 17, "color": "#000"},
         "encoding": {"text": {"field": "pct"}}}
      ],
      "resolve": {"scale": {"color": "independent"}}
    }
  ]
}
